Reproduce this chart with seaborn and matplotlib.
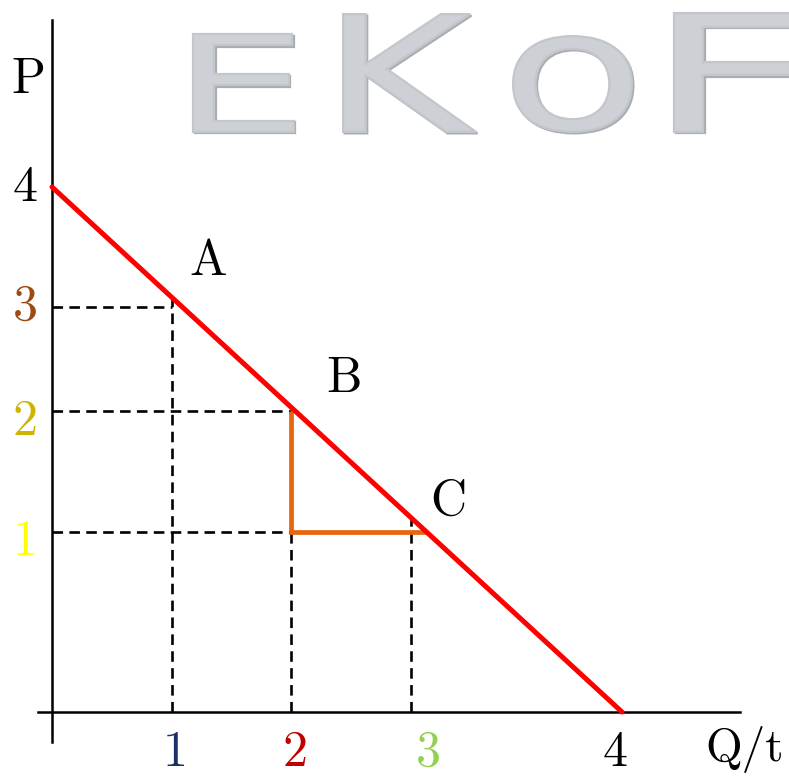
import numpy as np
import matplotlib
matplotlib.use("Agg")
import matplotlib.pyplot as plt
import matplotlib.colors as mcolors
import matplotlib.patheffects as pe
from matplotlib.transforms import Affine2D
import seaborn as sns

# ---- data -------------------------------------------------------------
demand_q = [0, 4]            # linear demand curve P = 4 - Q
demand_p = [4, 0]

point_names = ["A", "B", "C"]
point_q = [1, 2, 3]
point_p = [3, 2, 1]

q_ticks = [1, 2, 3, 4]
q_tick_labels = ["1", "2", "3", "4"]
q_tick_colors = ["#1b2f6b", "#c00000", "#92d050", "#000000"]

p_ticks = [1, 2, 3, 4]
p_tick_labels = ["1", "2", "3", "4"]
p_tick_colors = ["#ffff00", "#ccb400", "#9c4a10", "#000000"]

logo_letters = ["E", "K", "o", "F"]

# ---- style ------------------------------------------------------------
sns.set_style("white")
plt.rcParams["font.family"] = ["cmr10", "DejaVu Serif"]
plt.rcParams["axes.unicode_minus"] = False

W, H = 789, 776
fig = plt.figure(figsize=(W / 100, H / 100), dpi=100)
ax = fig.add_axes([0, 0, 1, 1])
ax.set_facecolor("white")

# hand-drawn diagram: unit steps are not evenly spaced on either axis
x_knots_v = [-1, 0, 1, 2, 3, 4, 6]
x_knots_px = [-68, 52, 172, 291, 411, 622, 832]
y_knots_v = [-1, 0, 1, 2, 3, 4, 6]
y_knots_px = [-116, 64, 244, 365, 469, 589, 829]


def _fwd(kv, kp):
    return lambda v: np.interp(v, kv, kp)


def _inv(kv, kp):
    return lambda p: np.interp(p, kp, kv)


ax.set_xscale("function", functions=(_fwd(x_knots_v, x_knots_px), _inv(x_knots_v, x_knots_px)))
ax.set_yscale("function", functions=(_fwd(y_knots_v, y_knots_px), _inv(y_knots_v, y_knots_px)))
ax.set_xlim(_inv(x_knots_v, x_knots_px)(0), _inv(x_knots_v, x_knots_px)(W))
ax.set_ylim(_inv(y_knots_v, y_knots_px)(0), _inv(y_knots_v, y_knots_px)(H))

# axes drawn as spines through the origin
for side in ("top", "right"):
    ax.spines[side].set_visible(False)
ax.spines["left"].set_position(("data", 0))
ax.spines["bottom"].set_position(("data", 0))
ax.spines["left"].set_bounds(-0.167, 5.39)
ax.spines["bottom"].set_bounds(-0.117, 5.12)
for side in ("left", "bottom"):
    ax.spines[side].set_linewidth(1.8)
    ax.spines[side].set_color("black")
    ax.spines[side].set_zorder(3)
ax.set_xticks([])
ax.set_yticks([])


def curve_p_at(q):
    """P on the drawn demand segment straight above quantity q."""
    (x0, y0), (x1, y1) = ax.transData.transform(np.column_stack([demand_q, demand_p]))
    xd = ax.transData.transform([[q, 0]])[0][0]
    yd = y0 + (xd - x0) * (y1 - y0) / (x1 - x0)
    return ax.transData.inverted().transform([[xd, yd]])[0][1]


def curve_q_at(p):
    """Q on the drawn demand segment level with price p."""
    (x0, y0), (x1, y1) = ax.transData.transform(np.column_stack([demand_q, demand_p]))
    yd = ax.transData.transform([[0, p]])[0][1]
    xd = x0 + (yd - y0) * (x1 - x0) / (y1 - y0)
    return ax.transData.inverted().transform([[xd, yd]])[0][0]


# dashed guides from each point to the axes
dash_kw = dict(color="black", lw=1.9, dashes=(4.0, 2.4), zorder=2)
for q, p in zip(point_q, point_p):
    ax.plot([0, q], [p, p], **dash_kw)
    ax.plot([q, q], [0, curve_p_at(q)], **dash_kw)

# slope triangle between B and C
tri_q = [point_q[1], point_q[1], curve_q_at(point_p[2])]
tri_p = [point_p[1], point_p[2], point_p[2]]
ax.plot(tri_q, tri_p, color="#e8650e", lw=3.4, solid_joinstyle="miter",
        solid_capstyle="butt", zorder=4)

# demand curve
sns.lineplot(x=demand_q, y=demand_p, color="#ff0000", lw=3.6, sort=False,
             estimator=None, ax=ax, zorder=5, legend=False)

# tick labels
FS = 36
q_dx = [3, 4, 17, -7]
for q, lab, col, dx in zip(q_ticks, q_tick_labels, q_tick_colors, q_dx):
    ax.annotate(lab, xy=(q, 0), xytext=(dx, -54), textcoords="offset pixels",
                ha="center", va="baseline", fontsize=FS, color=col)
p_dy = [-23, -24, -13, -14]
for p, lab, col, dy in zip(p_ticks, p_tick_labels, p_tick_colors, p_dy):
    ax.annotate(lab, xy=(0, p), xytext=(-27, dy), textcoords="offset pixels",
                ha="center", va="baseline", fontsize=FS, color=col)

# point names
name_off = [(36, 32), (53, 19), (37, 17)]
for name, q, p, (dx, dy) in zip(point_names, point_q, point_p, name_off):
    ax.annotate(name, xy=(q, p), xytext=(dx, dy), textcoords="offset pixels",
                ha="center", va="baseline", fontsize=FS, color="black")

# axis names
ax.annotate("P", xy=(28, H - 93), xycoords="figure pixels", ha="center",
            va="baseline", fontsize=FS, color="black")
ax.annotate("Q/t", xy=(784, 3), xycoords="figure pixels", ha="right",
            va="bottom", fontsize=34, color="black")


# ---- logo lettering ---------------------------------------------------
class FitBox(pe.AbstractPathEffect):
    """Draw a text path stretched to fill a box given in display pixels."""

    def __init__(self, box, offset=(0, 0), facecolor="0.8", edgecolor=None, lw=0.0):
        super().__init__()
        self.box = box
        self.off = offset
        self.fc = facecolor
        self.ec = edgecolor
        self.lw = lw

    def draw_path(self, renderer, gc, tpath, affine, rgbFace=None):
        ext = tpath.get_extents(affine)
        pad = self.lw * 100 / 72 / 2
        bx0, by0, bx1, by1 = self.box
        bx0, by0, bx1, by1 = bx0 + pad, by0 + pad, bx1 - pad, by1 - pad
        fit = (Affine2D().translate(-ext.x0, -ext.y0)
               .scale((bx1 - bx0) / ext.width, (by1 - by0) / ext.height)
               .translate(bx0 + self.off[0], by0 + self.off[1]))
        gc0 = renderer.new_gc()
        gc0.copy_properties(gc)
        gc0.set_linewidth(self.lw)
        gc0.set_joinstyle("miter")
        if self.ec is not None:
            gc0.set_foreground(self.ec)
        renderer.draw_path(gc0, tpath, affine + fit, mcolors.to_rgba(self.fc))
        gc0.restore()


logo_boxes = [(192, 643, 295, 743), (342, 643, 477, 763),
              (512, 643, 633, 741), (673, 643, 800, 764)]
for letter, box in zip(logo_letters, logo_boxes):
    fig.text(box[0] / W, box[1] / H, letter, fontsize=40, fontfamily="DejaVu Sans",
             va="baseline", zorder=0,
             path_effects=[
                 FitBox(box, offset=(1.5, -1.5), facecolor="#a9acb1",
                        edgecolor="#a9acb1", lw=1.6),
                 FitBox(box, facecolor="#cdd0d4", edgecolor="#c3c6ca", lw=1.6),
             ])

fig.savefig("out.png", dpi=100, facecolor="white")
